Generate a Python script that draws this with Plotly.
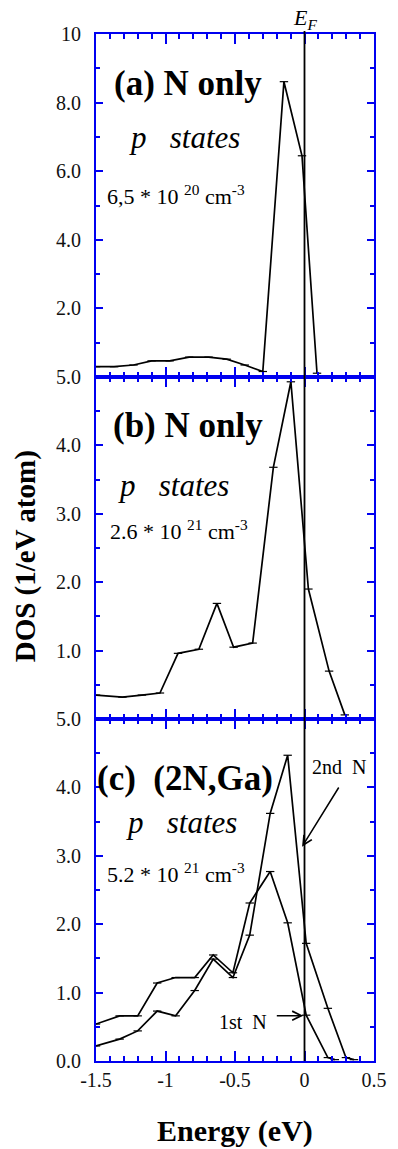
import plotly.graph_objects as go
from plotly.subplots import make_subplots

# ---------------- data ----------------
energy_a = [-1.5, -1.37, -1.23, -1.10, -0.97, -0.83, -0.69, -0.56, -0.43, -0.30, -0.148, -0.018, 0.09]
dos_a = [0.30, 0.30, 0.35, 0.47, 0.47, 0.58, 0.58, 0.52, 0.35, 0.16, 8.61, 6.45, 0.11]

energy_b = [-1.5, -1.31, -1.17, -1.04, -0.91, -0.76, -0.63, -0.51, -0.373, -0.224, -0.098, 0.028, 0.177, 0.29]
dos_b = [0.35, 0.32, 0.35, 0.38, 0.96, 1.02, 1.69, 1.05, 1.11, 3.68, 4.93, 1.90, 0.70, 0.06]

energy_c1 = [-1.5, -1.33, -1.2, -1.06, -0.927, -0.79, -0.657, -0.515, -0.394, -0.247, -0.121, 0.012, 0.168, 0.218]
dos_c1 = [0.54, 0.66, 0.66, 1.14, 1.22, 1.22, 1.55, 1.29, 2.31, 2.77, 2.02, 0.67, 0.05, 0.02]   # 1st N

energy_c2 = [-1.5, -1.33, -1.2, -1.06, -0.927, -0.79, -0.657, -0.515, -0.394, -0.247, -0.121, 0.012, 0.168, 0.298, 0.356]
dos_c2 = [0.22, 0.32, 0.44, 0.73, 0.66, 1.03, 1.49, 1.22, 1.84, 3.62, 4.47, 1.72, 0.77, 0.05, 0.02]  # 2nd N

x_tickvals = [-1.5, -1, -0.5, 0, 0.5]
x_ticktext = ["-1.5", "-1", "-0.5", "0", "0.5"]
ya_tickvals = [2, 4, 6, 8, 10]
ya_ticktext = ["2.0", "4.0", "6.0", "8.0", "10"]
yb_tickvals = [1, 2, 3, 4, 5]
yb_ticktext = ["1.0", "2.0", "3.0", "4.0", "5.0"]
yc_tickvals = [0, 1, 2, 3, 4, 5]
yc_ticktext = ["0.0", "1.0", "2.0", "3.0", "4.0", "5.0"]

# ---------------- figure ----------------
W, H = 398, 1149
L_PX, R_PX, T_PX, B_PX = 96, 387, 34, 1061   # plot area in page pixels
ML, MT, MR, MB = L_PX, T_PX, W - R_PX, H - B_PX
PW, PH = R_PX - L_PX, B_PX - T_PX

BLUE = "#0000f0"
SERIF = "Times New Roman, Liberation Serif, serif"

fig = make_subplots(rows=3, cols=1, shared_xaxes=False, vertical_spacing=0)

line_style = dict(color="black", width=1.7)
mk = dict(symbol="line-ew", size=6, line=dict(color="black", width=1.2), color="black")

fig.add_trace(go.Scatter(x=energy_a, y=dos_a, mode="lines+markers", line=line_style, marker=mk,
                         showlegend=False), row=1, col=1)
fig.add_trace(go.Scatter(x=energy_b, y=dos_b, mode="lines+markers", line=line_style, marker=mk,
                         showlegend=False), row=2, col=1)
fig.add_trace(go.Scatter(x=energy_c1, y=dos_c1, mode="lines+markers", line=line_style, marker=mk,
                         showlegend=False, name="1st N"), row=3, col=1)
fig.add_trace(go.Scatter(x=energy_c2, y=dos_c2, mode="lines+markers", line=line_style, marker=mk,
                         showlegend=False, name="2nd N"), row=3, col=1)

dom_c = [0, 342 / PH]
dom_b = [342 / PH, 684 / PH]
dom_a = [684 / PH, 1]

xcommon = dict(range=[-1.5, 0.5], tickmode="array", tickvals=x_tickvals, ticktext=x_ticktext,
               ticks="inside", ticklen=10, tickwidth=1.8, tickcolor=BLUE, mirror="ticks",
               showline=True, linecolor=BLUE, linewidth=2, showgrid=False, zeroline=False,
               minor=dict(tickmode="linear", tick0=-1.5, dtick=0.1, ticks="inside", ticklen=5,
                          tickwidth=1.8, tickcolor=BLUE, showgrid=False),
               tickfont=dict(family=SERIF, size=20, color="#111"))

fig.update_xaxes(**xcommon)
fig.update_xaxes(row=1, col=1, showticklabels=False)
fig.update_xaxes(row=2, col=1, showticklabels=False)
fig.update_xaxes(row=3, col=1, showticklabels=True)

ycommon = dict(ticks="inside", ticklen=7, tickwidth=1.8, tickcolor=BLUE, mirror="ticks",
               showline=True, linecolor=BLUE, linewidth=2, showgrid=False, zeroline=False,
               tickmode="array", tickfont=dict(family=SERIF, size=20, color="#111"),
               ticklabelstandoff=9)
fig.update_yaxes(**ycommon)
fig.update_yaxes(row=1, col=1, range=[0, 10], tickvals=ya_tickvals, ticktext=ya_ticktext, domain=dom_a,
                 minor=dict(tickmode="linear", tick0=0, dtick=1, ticks="inside", ticklen=4,
                            tickwidth=1.8, tickcolor=BLUE, showgrid=False))
fig.update_yaxes(row=2, col=1, range=[0, 5], tickvals=yb_tickvals, ticktext=yb_ticktext, domain=dom_b,
                 minor=dict(tickmode="linear", tick0=0, dtick=0.5, ticks="inside", ticklen=4,
                            tickwidth=1.8, tickcolor=BLUE, showgrid=False))
fig.update_yaxes(row=3, col=1, range=[0, 5], tickvals=yc_tickvals, ticktext=yc_ticktext, domain=dom_c,
                 minor=dict(tickmode="linear", tick0=0, dtick=0.5, ticks="inside", ticklen=4,
                            tickwidth=1.8, tickcolor=BLUE, showgrid=False))


def P(px, py):
    """page pixel position -> paper coordinates"""
    return (px - L_PX) / PW, (B_PX - py) / PH


# Fermi level line
fig.add_shape(type="line", xref="x3", yref="paper", x0=0, x1=0, y0=0, y1=P(0, 31)[1],
              line=dict(color="black", width=1.8), layer="above")

ann = []


def text(px, py, s, size, bold=False, italic=False, angle=0, xanchor="center"):
    x, y = P(px, py)
    if bold:
        s = "<b>" + s + "</b>"
    if italic:
        s = "<i>" + s + "</i>"
    ann.append(dict(x=x, y=y, xref="paper", yref="paper", text=s, showarrow=False,
                    xanchor=xanchor, yanchor="middle", textangle=angle,
                    font=dict(family=SERIF, size=size, color="black")))


text(315, 19, "E<sub>F</sub>", 22, italic=True)

text(192, 84, "(a) N only", 35, bold=True)
text(189, 137, "p   states", 31, italic=True)
text(180, 195, "6,5 * 10 <sup>20</sup> cm<sup>-3</sup>", 22)

text(192, 425, "(b) N only", 35, bold=True)
text(177, 486, "p   states", 31, italic=True)
text(183, 530, "2.6 * 10 <sup>21</sup> cm<sup>-3</sup>", 22)

text(189, 778, "(c)  (2N,Ga)", 35, bold=True)
text(185, 822, "p   states", 31, italic=True)
text(180, 873, "5.2 * 10 <sup>21</sup> cm<sup>-3</sup>", 22)

text(350, 767, "2nd  N", 20)
text(250, 1022, "1st  N", 20)

text(22, 556, "DOS (1/eV atom)", 29, bold=True, angle=-90)
text(242, 1131, "Energy (eV)", 30, bold=True)

# arrows
for tip, tail in [((311.7, 846.7), (349.3, 786)), ((313, 1015.7), (285, 1015.7))]:
    x, y = P(*tip)
    ann.append(dict(x=x, y=y, xref="paper", yref="paper", text="", showarrow=True,
                    ax=tail[0] - tip[0], ay=tail[1] - tip[1], axref="pixel", ayref="pixel",
                    arrowhead=5, arrowsize=1.2, arrowwidth=1.5, arrowcolor="black"))

fig.update_layout(width=W, height=H, margin=dict(l=ML, r=MR, t=MT, b=MB),
                  paper_bgcolor="white", plot_bgcolor="white", annotations=ann,
                  showlegend=False, font=dict(family=SERIF))

fig.write_html("out.html", config={"displayModeBar": False},
               post_script="document.body.style.margin='0px';document.body.style.overflow='hidden';")
